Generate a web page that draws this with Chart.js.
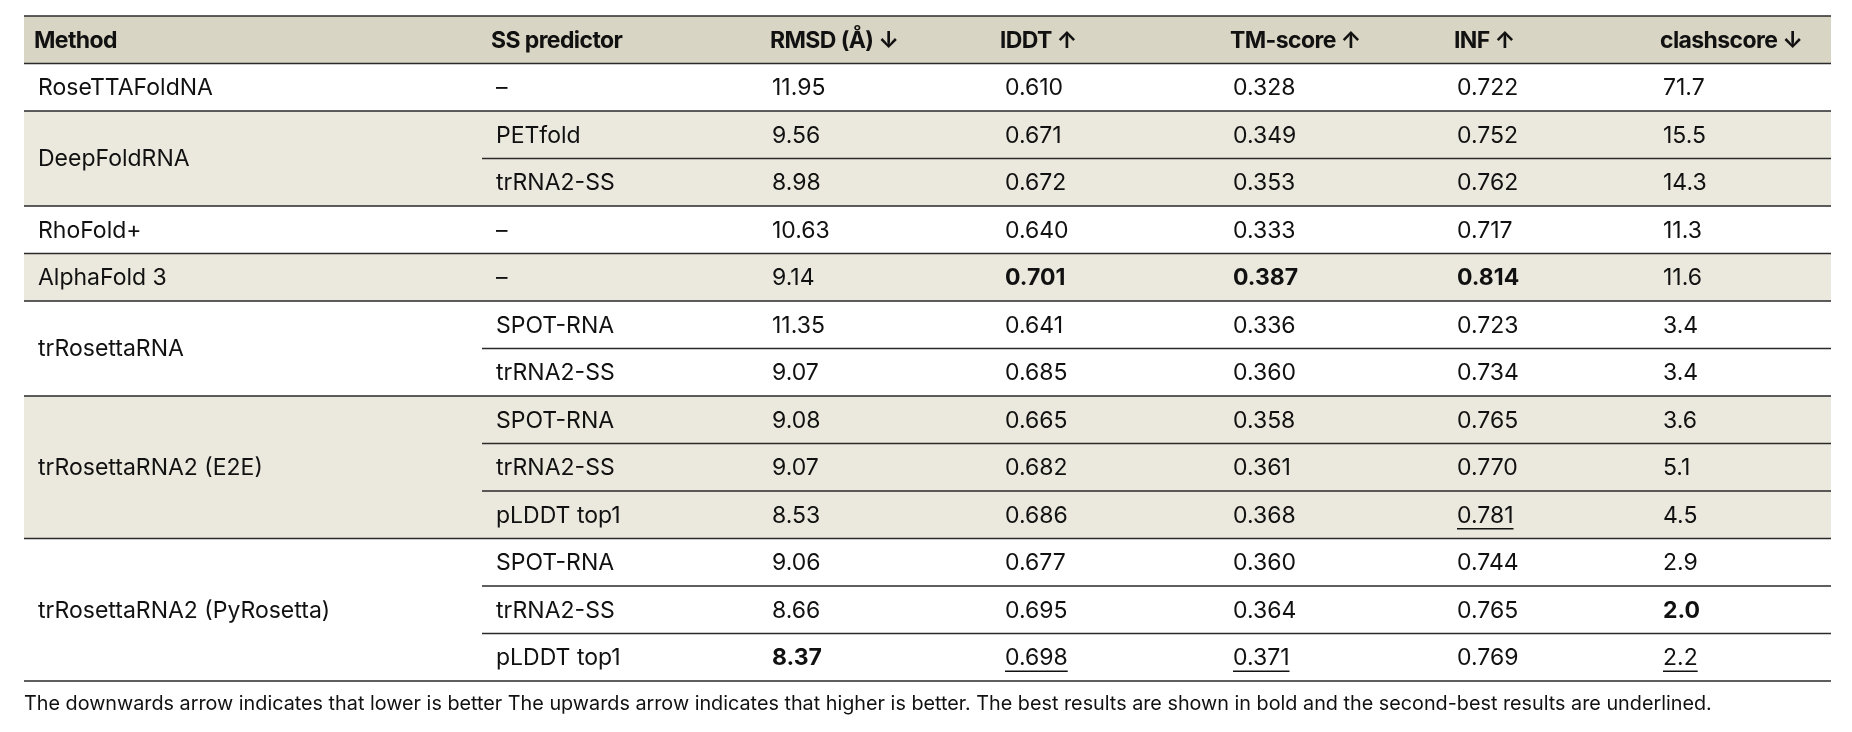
<!DOCTYPE html>
<html><head><meta charset="utf-8">
<script src="https://cdn.jsdelivr.net/npm/chart.js@4"></script>
<style>html,body{margin:0;padding:0;background:#fff;} canvas{display:block;}</style>
</head><body>
<canvas id="c" width="1852" height="732"></canvas>
<script>
// ---------- data ----------
const headerLabels = ['Method', 'SS predictor', 'RMSD (Å) ↓', 'lDDT ↑', 'TM-score ↑', 'INF ↑', 'clashscore ↓'];
const methodNames = ['RoseTTAFoldNA', 'DeepFoldRNA', 'RhoFold+', 'AlphaFold 3', 'trRosettaRNA', 'trRosettaRNA2 (E2E)', 'trRosettaRNA2 (PyRosetta)'];
const methodRowCounts = [1, 2, 1, 1, 2, 3, 3];
const ssPredictors = ['–', 'PETfold', 'trRNA2-SS', '–', '–', 'SPOT-RNA', 'trRNA2-SS', 'SPOT-RNA', 'trRNA2-SS', 'pLDDT top1', 'SPOT-RNA', 'trRNA2-SS', 'pLDDT top1'];
const rmsd = [11.95, 9.56, 8.98, 10.63, 9.14, 11.35, 9.07, 9.08, 9.07, 8.53, 9.06, 8.66, 8.37];
const lddt = [0.610, 0.671, 0.672, 0.640, 0.701, 0.641, 0.685, 0.665, 0.682, 0.686, 0.677, 0.695, 0.698];
const tmScore = [0.328, 0.349, 0.353, 0.333, 0.387, 0.336, 0.360, 0.358, 0.361, 0.368, 0.360, 0.364, 0.371];
const inf = [0.722, 0.752, 0.762, 0.717, 0.814, 0.723, 0.734, 0.765, 0.770, 0.781, 0.744, 0.765, 0.769];
const clashscore = [71.7, 15.5, 14.3, 11.3, 11.6, 3.4, 3.4, 3.6, 5.1, 4.5, 2.9, 2.0, 2.2];
const metricDecimals = [2, 3, 3, 3, 1];
const bestCells = [[12, 0], [4, 1], [4, 2], [4, 3], [11, 4]];   // [row, metric] shown bold
const secondCells = [[12, 1], [12, 2], [9, 3], [12, 4]];        // [row, metric] underlined
const footnote = 'The downwards arrow indicates that lower is better The upwards arrow indicates that higher is better. The best results are shown in bold and the second-best results are underlined.';

// ---------- layout / style ----------
const TABLE_W = 1807;
const colX = [14, 472, 748, 981, 1209, 1433, 1639];
const headerDX = [-4, -5, -2, -5, -3, -3, -3];
const subRuleStart = 458;
const FONT = 'Inter, "Noto Sans", sans-serif';
const headerColor = '#d9d5c4';
const bandColor = '#ebe8dd';

const metrics = [rmsd, lddt, tmScore, inf, clashscore];
const rowLabels = ['header'].concat(ssPredictors.map((s, i) => 'row' + i));

// group index per data row
const rowGroup = [];
methodRowCounts.forEach((n, g) => { for (let k = 0; k < n; k++) rowGroup.push(g); });

const barData = rowLabels.map((l, i) => (i === 0 || rowGroup[i - 1] % 2 === 1) ? [0, TABLE_W] : null);
const barColors = rowLabels.map((l, i) => i === 0 ? headerColor : bandColor);

const tablePlugin = {
  id: 'tableText',
  afterDatasetsDraw(chart) {
    const ctx = chart.ctx, xs = chart.scales.x, ys = chart.scales.y;
    const rowH = ys.getPixelForValue(1) - ys.getPixelForValue(0);
    const top = i => ys.getPixelForValue(i) - rowH / 2;
    const X = v => xs.getPixelForValue(v);
    ctx.save();
    // rules
    ctx.strokeStyle = '#2a2a2a';
    ctx.lineWidth = 1.6;
    const hline = (x0, x1, y) => { ctx.beginPath(); ctx.moveTo(X(x0), y); ctx.lineTo(X(x1), y); ctx.stroke(); };
    hline(0, TABLE_W, top(0));
    hline(0, TABLE_W, top(1));
    let r = 1;
    methodRowCounts.forEach((n) => {
      for (let k = 1; k < n; k++) hline(subRuleStart, TABLE_W, top(r + k));
      r += n;
      hline(0, TABLE_W, top(r));
    });
    // header text
    ctx.fillStyle = '#111';
    ctx.textBaseline = 'middle';
    ctx.textAlign = 'left';
    ctx.font = 'bold 23px ' + FONT;
    if ('letterSpacing' in ctx) ctx.letterSpacing = '-0.6px';
    headerLabels.forEach((h, c) => ctx.fillText(h, X(colX[c] + headerDX[c]), ys.getPixelForValue(0) + 1));
    if ('letterSpacing' in ctx) ctx.letterSpacing = '0px';
    // method names (centered on their group rows)
    ctx.font = '23px ' + FONT;
    r = 1;
    methodNames.forEach((m, g) => {
      const n = methodRowCounts[g];
      const yc = (top(r) + top(r + n)) / 2;
      ctx.fillText(m, X(colX[0]), yc + 1);
      r += n;
    });
    // SS predictor + metrics
    const isIn = (arr, i, j) => arr.some(p => p[0] === i && p[1] === j);
    ssPredictors.forEach((s, i) => {
      const yc = ys.getPixelForValue(i + 1) + 1;
      ctx.font = '23px ' + FONT;
      ctx.fillText(s, X(colX[1]), yc);
      metrics.forEach((arr, j) => {
        const txt = arr[i].toFixed(metricDecimals[j]);
        const bold = isIn(bestCells, i, j);
        ctx.font = (bold ? 'bold ' : '') + '23px ' + FONT;
        const x = X(colX[j + 2]);
        ctx.fillText(txt, x, yc);
        if (isIn(secondCells, i, j)) {
          const w = ctx.measureText(txt).width;
          ctx.lineWidth = 1.4;
          ctx.strokeStyle = '#111';
          ctx.beginPath(); ctx.moveTo(x, yc + 13); ctx.lineTo(x + w, yc + 13); ctx.stroke();
        }
      });
    });
    // footnote
    ctx.font = '19.8px ' + FONT;
    ctx.fillStyle = '#111';
    ctx.fillText(footnote, X(0), top(rowLabels.length) + 23);
    ctx.restore();
  }
};

new Chart(document.getElementById('c'), {
  type: 'bar',
  data: {
    labels: rowLabels,
    datasets: [{ data: barData, backgroundColor: barColors, borderWidth: 0, barPercentage: 1, categoryPercentage: 1 }]
  },
  options: {
    indexAxis: 'y',
    responsive: false,
    animation: false,
    devicePixelRatio: 1,
    layout: { padding: { left: 24, right: 21, top: 16, bottom: 51 } },
    plugins: { legend: { display: false }, tooltip: { enabled: false } },
    scales: {
      x: { type: 'linear', min: 0, max: TABLE_W, display: false },
      y: { type: 'category', offset: true, display: false, grid: { display: false } }
    }
  },
  plugins: [tablePlugin]
});
</script>
</body></html>
